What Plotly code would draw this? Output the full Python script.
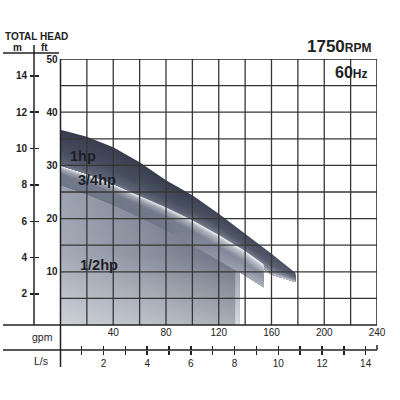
import plotly.graph_objects as go

# ---------------- data ----------------
gpm_1hp = [0, 20, 40, 60, 80, 100, 120, 140, 160, 178]
head_1hp_top = [36.7, 35.4, 33.4, 30.6, 27.2, 24.4, 20.9, 17.2, 13.4, 9.8]
head_1hp_bottom = [30.0, 28.4, 26.5, 24.3, 22.0, 19.6, 16.6, 13.2, 9.5, 8.1]

gpm_34hp = [0, 20, 40, 60, 80, 100, 120, 140, 154]
head_34hp_top = [29.9, 28.3, 26.4, 24.3, 22.1, 19.7, 16.9, 13.9, 11.4]
head_34hp_bottom = [26.3, 24.6, 22.6, 20.3, 17.8, 15.1, 12.2, 9.3, 7.1]

gpm_12hp = [0, 20, 40, 60, 80, 100, 120, 136]
head_12hp = [26.6, 24.9, 22.9, 20.6, 18.1, 15.4, 12.5, 10.4]

curve_labels = ["1hp", "3/4hp", "1/2hp"]
label_gpm = [16.7, 28.0, 28.9]
label_ft = [31.8, 27.3, 11.3]

gpm_ticks = list(range(20, 241, 20))
gpm_labels = [str(v) if v % 40 == 0 else "" for v in gpm_ticks]
ft_ticks = list(range(5, 51, 5))
ft_labels = [str(v) if v % 10 == 0 else "" for v in ft_ticks]
m_ticks = [2, 4, 6, 8, 10, 12, 14]
ls_ticks = list(range(1, 15))
ls_labels = [str(v) if v % 2 == 0 else "" for v in ls_ticks]

# ---------------- layout geometry ----------------
W = H = 400
ML, MR, MT, MB = 3, 23, 59, 30
PW, PH = W - ML - MR, H - MT - MB


def px(x):
    return (x - ML) / PW


def py(y):
    return (H - MB - y) / PH


FONT = "Liberation Sans, Arial, sans-serif"
INK = "#222222"
GRID = "#363636"

fig = go.Figure()


def add_poly(xs, ys, grad=None, color=None):
    kw = dict(x=xs, y=ys, fill="toself", mode="lines",
              line=dict(width=0, color="rgba(0,0,0,0)"),
              hoverinfo="skip", showlegend=False)
    if grad is not None:
        kw["fillgradient"] = grad
    else:
        kw["fillcolor"] = color
    fig.add_trace(go.Scatter(**kw))


def hex2rgb(h):
    h = h.lstrip("#")
    return [int(h[i:i + 2], 16) for i in (0, 2, 4)]


def mix(stops, t):
    for (t0, c0), (t1, c1) in zip(stops[:-1], stops[1:]):
        if t0 <= t <= t1:
            f = (t - t0) / (t1 - t0) if t1 > t0 else 0
            a, b = hex2rgb(c0), hex2rgb(c1)
            return "rgb(%d,%d,%d)" % tuple(round(a[i] + f * (b[i] - a[i])) for i in range(3))
    return stops[-1][1]


# 1/2 hp block (filled to zero)
xs12 = [0] + gpm_12hp + [gpm_12hp[-1], 0]
ys12 = [0] + head_12hp + [0, 0]
add_poly(xs12, ys12, grad=dict(type="horizontal",
         colorscale=[[0, "#9ca2af"], [0.5, "#7c8393"], [1, "#565d6e"]]))
add_poly(xs12, ys12, grad=dict(type="vertical",
         colorscale=[[0, "rgba(255,255,255,0.5)"], [0.5, "rgba(255,255,255,0.1)"],
                     [1, "rgba(255,255,255,0)"]]))
# lit side face of the block
xe = gpm_12hp[-1]
add_poly([xe - 3.5, xe, xe, xe - 3.5], [0, 0, head_12hp[-1], head_12hp[-1] - 0.4],
         grad=dict(type="vertical", colorscale=[[0, "#d8dbe1"], [1, "#9ea4b0"]]))


def ribbon(x, top, bot, left_stops, right_stops, n=20):
    for k in range(n):
        t = k / n
        upper = [a - t * (a - b) for a, b in zip(top, bot)]
        xs = list(x) + list(x[::-1])
        ys = upper + list(bot[::-1])
        cl, cr = mix(left_stops, t), mix(right_stops, t)
        add_poly(xs, ys, grad=dict(type="horizontal",
                 colorscale=[[0, cl], [0.5, cl], [1, cr]]))


ribbon(gpm_1hp, head_1hp_top, head_1hp_bottom,
       [(0, "#383e4e"), (0.6, "#474e5f"), (0.9, "#5d6475"), (1, "#7a8191")],
       [(0, "#4c5364"), (0.5, "#5b6273"), (0.8, "#8b91a0"), (1, "#dde0e5")])
ribbon(gpm_34hp, head_34hp_top, head_34hp_bottom,
       [(0, "#e4e6ea"), (0.12, "#a5abb7"), (0.4, "#737a8b"), (1, "#6f7687")],
       [(0, "#eceef2"), (0.12, "#c0c4cc"), (0.45, "#8a91a0"), (1, "#aeb3be")])

# dummy traces so the secondary axes are drawn
fig.add_trace(go.Scatter(x=[None], y=[None], yaxis="y2", showlegend=False, hoverinfo="skip"))
fig.add_trace(go.Scatter(x=[None], y=[None], yaxis="y3", showlegend=False, hoverinfo="skip"))
fig.add_trace(go.Scatter(x=[None], y=[None], xaxis="x2", showlegend=False, hoverinfo="skip"))
fig.add_trace(go.Scatter(x=[None], y=[None], xaxis="x3", showlegend=False, hoverinfo="skip"))

shapes = []
for g in gpm_ticks[:-1]:
    shapes.append(dict(type="line", xref="x", yref="y", x0=g, x1=g, y0=0, y1=50,
                       line=dict(color=GRID, width=1.3), layer="above"))
for f in ft_ticks[:-1]:
    shapes.append(dict(type="line", xref="x", yref="y", x0=0, x1=240, y0=f, y1=f,
                       line=dict(color=GRID, width=1.3), layer="above"))
shapes.append(dict(type="line", xref="x", yref="y", x0=0, x1=240, y0=50, y1=50,
                   line=dict(color=INK, width=1.5), layer="above"))
shapes.append(dict(type="line", xref="x", yref="y", x0=240, x1=240, y0=0, y1=50,
                   line=dict(color=INK, width=1.5), layer="above"))


def pline(x0, y0, x1, y1, w=1.5):
    shapes.append(dict(type="line", xref="paper", yref="paper",
                       x0=px(x0), y0=py(y0), x1=px(x1), y1=py(y1),
                       line=dict(color=INK, width=w), layer="above"))


pline(3, 53, 59, 53)          # header underline
pline(34, 45, 34, 325)        # metre axis line
pline(60.5, 59, 60.5, 367)    # left border extended
pline(3, 325, 377, 325)       # bottom border extended
pline(3, 350, 377, 350)       # L/s axis line
pline(377, 350, 377, 345)     # end tick

ann = []


def ptext(x, y, text, size, bold=True, xanchor="center"):
    ann.append(dict(xref="paper", yref="paper", x=px(x), y=py(y), text=text,
                    showarrow=False, xanchor=xanchor, yanchor="middle",
                    font=dict(family=FONT, size=size, color=INK,
                              weight="bold" if bold else "normal")))


ptext(3, 36.5, "TOTAL HEAD", 10, xanchor="left")
ptext(17, 48, "m", 10)
ptext(44, 48, "ft", 10)
ptext(42, 337, "gpm", 10.5, bold=False)
ptext(41, 361, "L/s", 10.5, bold=False)
ptext(374, 47, "1750<span style='font-size:12px'>RPM</span>", 17, xanchor="right")
ptext(369, 72, "60<span style='font-size:12px'>Hz</span>", 16, xanchor="right")

for t, gx, gy in zip(curve_labels, label_gpm, label_ft):
    ann.append(dict(xref="x", yref="y", x=gx, y=gy, text=t, showarrow=False,
                    xanchor="center", yanchor="middle",
                    font=dict(family=FONT, size=14.5, color="#1c1f26", weight="bold")))

tick_bold = dict(family=FONT, size=10, color=INK, weight="bold")
tick_reg = dict(family=FONT, size=10, color=INK)

fig.update_layout(
    width=W, height=H,
    margin=dict(l=ML, r=MR, t=MT, b=MB, pad=0),
    paper_bgcolor="white", plot_bgcolor="white",
    showlegend=False,
    shapes=shapes, annotations=ann,
    xaxis=dict(domain=[px(60.5), 1], range=[0, 240], tickvals=gpm_ticks, ticktext=gpm_labels,
               ticks="", showgrid=False, zeroline=False, showline=False,
               tickfont=tick_reg, fixedrange=True, automargin=False),
    yaxis=dict(domain=[py(325), 1], range=[0, 50], tickvals=ft_ticks, ticktext=ft_labels,
               ticks="", showgrid=False, zeroline=False, showline=False,
               tickfont=tick_bold, fixedrange=True, ticklabelstandoff=2, automargin=False),
    yaxis2=dict(overlaying="y", anchor="free", position=px(34), side="left",
                range=[0.29, 14.93], tickvals=m_ticks, ticks="outside", ticklen=4,
                tickwidth=1.5, tickcolor=INK, showgrid=False, zeroline=False,
                showline=False, tickfont=tick_bold, ticklabelstandoff=1, automargin=False),
    yaxis3=dict(overlaying="y", anchor="free", position=px(34), side="left",
                range=[0.29, 14.93], tickvals=m_ticks, ticks="inside", ticklen=4,
                tickwidth=1.5, tickcolor=INK, showgrid=False, zeroline=False,
                showline=False, showticklabels=False, automargin=False),
    xaxis2=dict(overlaying="x", anchor="free", position=py(350), side="bottom",
                range=[0.03, 14.52], tickvals=ls_ticks, ticktext=ls_labels,
                ticks="outside", ticklen=4, tickwidth=1.5, tickcolor=INK,
                showgrid=False, zeroline=False, showline=False, tickfont=tick_reg,
                automargin=False),
    xaxis3=dict(overlaying="x", anchor="free", position=py(350), side="bottom",
                range=[0.03, 14.52], tickvals=ls_ticks, ticks="inside", ticklen=4,
                tickwidth=1.5, tickcolor=INK, showgrid=False, zeroline=False,
                showline=False, showticklabels=False, automargin=False),
)

fig.write_html("out.html", config={"displayModeBar": False, "staticPlot": True},
               post_script="document.body.style.margin='0';")
